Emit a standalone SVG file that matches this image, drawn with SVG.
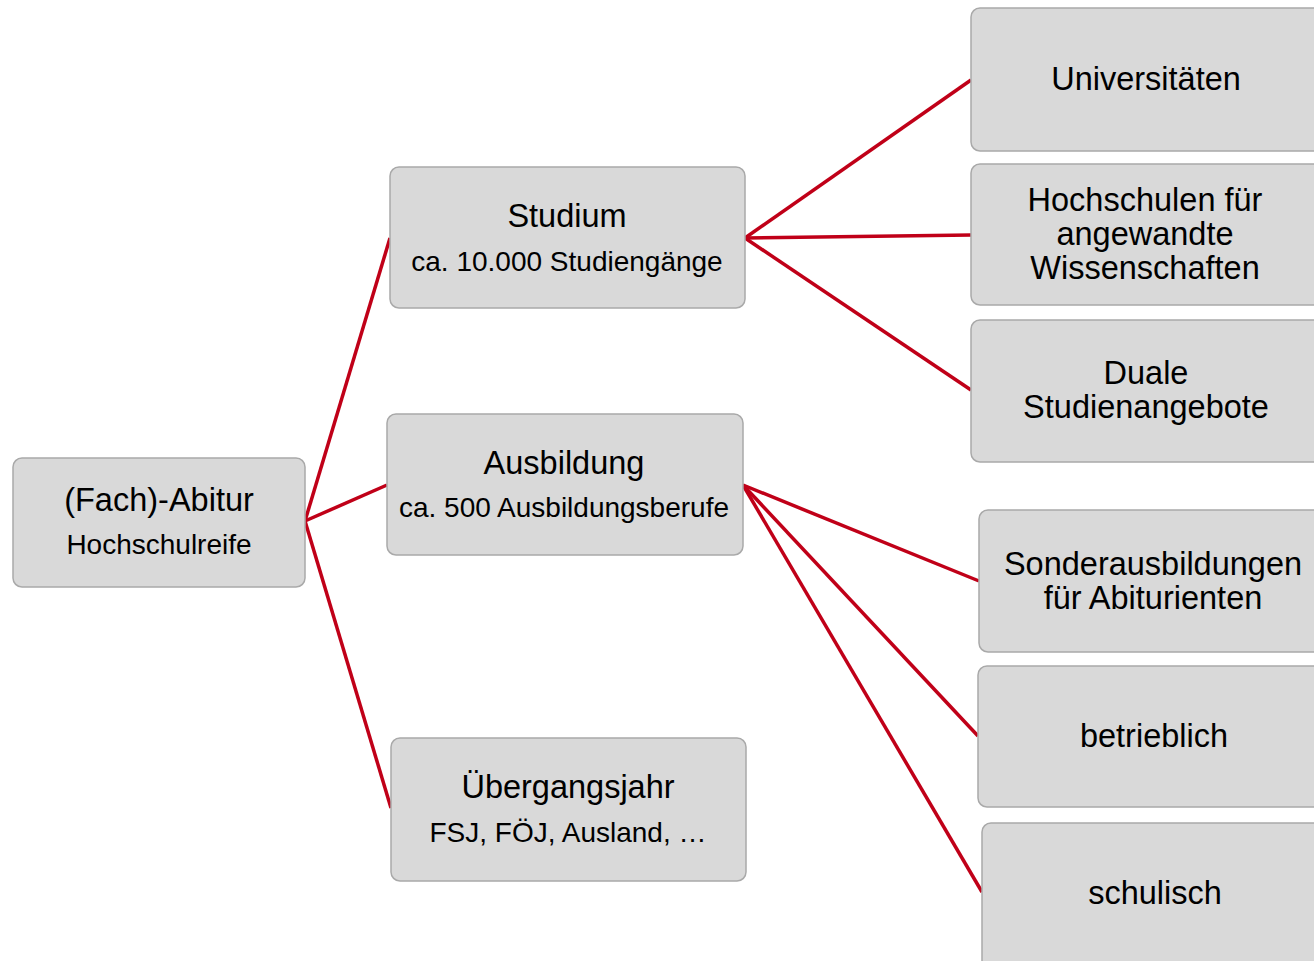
<svg xmlns="http://www.w3.org/2000/svg" width="1314" height="961" viewBox="0 0 1314 961">
<style>
.box{fill:#d9d9d9;stroke:#a9a9a9;stroke-width:1.5}
text{font-family:"Liberation Sans",Arial,sans-serif;fill:#000;text-anchor:middle}
.t{font-size:32.5px}
.s{font-size:28px}
.s2{font-size:28px}
.c{stroke:#c00018;stroke-width:3.5;fill:none}
</style>
<rect width="1314" height="961" fill="#fff"/>
<g id="connectors">
<line class="c" x1="305" y1="521" x2="390" y2="238"/>
<line class="c" x1="305" y1="521" x2="387" y2="485"/>
<line class="c" x1="305" y1="521" x2="391" y2="808"/>
<line class="c" x1="745" y1="238" x2="971" y2="80"/>
<line class="c" x1="745" y1="238" x2="971" y2="235"/>
<line class="c" x1="745" y1="238" x2="971" y2="390"/>
<line class="c" x1="743" y1="485" x2="979" y2="581"/>
<line class="c" x1="743" y1="485" x2="978" y2="736"/>
<line class="c" x1="743" y1="485" x2="982" y2="892"/>
</g>
<g id="abitur">
<rect class="box" x="13" y="458" width="292" height="129" rx="9"/>
<text class="t" x="159" y="511">(Fach)-Abitur</text>
<text class="s2" x="159" y="554">Hochschulreife</text>
</g>
<g id="studium">
<rect class="box" x="390" y="167" width="355" height="141" rx="9"/>
<text class="t" x="567" y="227">Studium</text>
<text class="s" x="567" y="271">ca. 10.000 Studiengänge</text>
</g>
<g id="ausbildung">
<rect class="box" x="387" y="414" width="356" height="141" rx="9"/>
<text class="t" x="564" y="474">Ausbildung</text>
<text class="s" x="564" y="517">ca. 500 Ausbildungsberufe</text>
</g>
<g id="uebergang">
<rect class="box" x="391" y="738" width="355" height="143" rx="9"/>
<text class="t" x="568" y="798">Übergangsjahr</text>
<text class="s" x="568" y="842">FSJ, FÖJ, Ausland, …</text>
</g>
<g id="universitaeten">
<rect class="box" x="971" y="8" width="360" height="143" rx="9"/>
<text class="t" x="1146" y="90">Universitäten</text>
</g>
<g id="hochschulen">
<rect class="box" x="971" y="164" width="360" height="141" rx="9"/>
<text class="t" x="1145" y="211">Hochschulen für</text>
<text class="t" x="1145" y="245">angewandte</text>
<text class="t" x="1145" y="279">Wissenschaften</text>
</g>
<g id="duale">
<rect class="box" x="971" y="320" width="360" height="142" rx="9"/>
<text class="t" x="1146" y="384">Duale</text>
<text class="t" x="1146" y="418">Studienangebote</text>
</g>
<g id="sonder">
<rect class="box" x="979" y="510" width="360" height="142" rx="9"/>
<text class="t" x="1153" y="575">Sonderausbildungen</text>
<text class="t" x="1153" y="609">für Abiturienten</text>
</g>
<g id="betrieblich">
<rect class="box" x="978" y="666" width="360" height="141" rx="9"/>
<text class="t" x="1154" y="747">betrieblich</text>
</g>
<g id="schulisch">
<rect class="box" x="982" y="823" width="360" height="160" rx="9"/>
<text class="t" x="1155" y="904">schulisch</text>
</g>
</svg>
